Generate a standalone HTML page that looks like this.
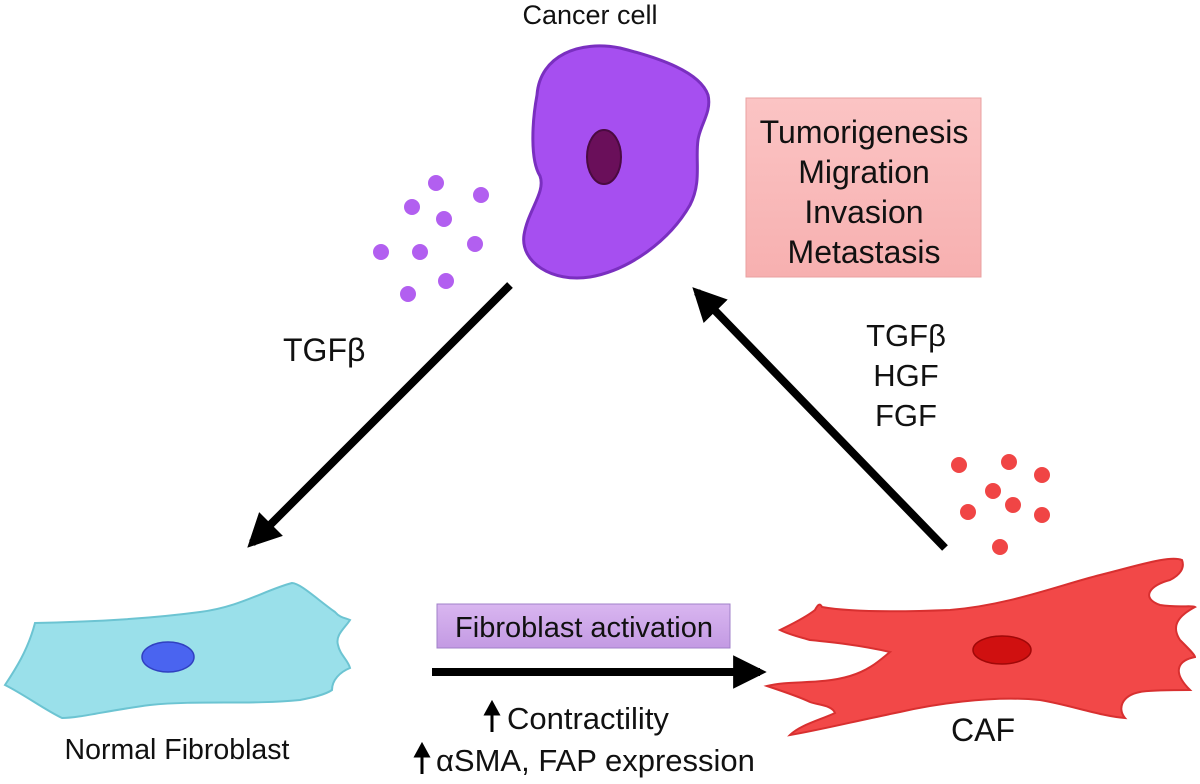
<!DOCTYPE html>
<html><head><meta charset="utf-8"><style>
html,body{margin:0;padding:0;background:#fff;}
svg{display:block;}
text{font-family:"Liberation Sans",Arial,sans-serif;fill:#111;}
</style></head><body>
<svg width="1200" height="784" viewBox="0 0 1200 784" xmlns="http://www.w3.org/2000/svg">
<defs>
<marker id="ah" viewBox="0 0 10 10" refX="8" refY="5" markerWidth="4.2" markerHeight="4.2" orient="auto" markerUnits="strokeWidth">
<path d="M0,0 L10,5 L0,10 Z" fill="#000"/></marker>
<linearGradient id="pk" x1="0" y1="0" x2="0" y2="1"><stop offset="0" stop-color="#fbc4c4"/><stop offset="1" stop-color="#f7b0b0"/></linearGradient>
<linearGradient id="pu" x1="0" y1="0" x2="0" y2="1"><stop offset="0" stop-color="#d9b6f0"/><stop offset="1" stop-color="#c39ae3"/></linearGradient>
</defs>

<text x="590" y="24" font-size="27" text-anchor="middle">Cancer cell</text>

<path d="M537,95 C540,55 580,40 620,48 C660,58 700,72 708,95 C712,112 700,125 698,140 C695,160 702,182 690,205 C670,240 630,270 590,277 C552,283 520,262 524,235 C528,210 546,192 540,176 C530,160 532,122 537,95 Z" fill="#a64ff0" stroke="#7a2fc0" stroke-width="3"/>
<ellipse cx="604" cy="157" rx="17" ry="27" fill="#6a0f5a" stroke="#4a0a40" stroke-width="2"/>

<g fill="#b25ff0">
<circle cx="436" cy="183" r="8"/><circle cx="481" cy="195" r="8"/><circle cx="412" cy="207" r="8"/>
<circle cx="444" cy="219" r="8"/><circle cx="381" cy="252" r="8"/><circle cx="420" cy="252" r="8"/>
<circle cx="475" cy="244" r="8"/><circle cx="446" cy="281" r="8"/><circle cx="408" cy="294" r="8"/>
</g>

<rect x="746" y="98" width="235" height="179" fill="url(#pk)" stroke="#eaa0a0" stroke-width="1"/>
<g font-size="32" text-anchor="middle">
<text x="864" y="143">Tumorigenesis</text>
<text x="864" y="183">Migration</text>
<text x="864" y="223">Invasion</text>
<text x="864" y="263">Metastasis</text>
</g>

<line x1="510" y1="285" x2="252" y2="543" stroke="#000" stroke-width="8" marker-end="url(#ah)"/>
<line x1="945" y1="548" x2="697" y2="292" stroke="#000" stroke-width="8" marker-end="url(#ah)"/>
<line x1="432" y1="672" x2="760" y2="672" stroke="#000" stroke-width="8" marker-end="url(#ah)"/>

<text x="283" y="361" font-size="32">TGFβ</text>
<g font-size="31" text-anchor="middle">
<text x="906" y="346">TGFβ</text>
<text x="906" y="386">HGF</text>
<text x="906" y="426">FGF</text>
</g>

<g fill="#f04545">
<circle cx="959" cy="465" r="8"/><circle cx="1009" cy="462" r="8"/><circle cx="1042" cy="475" r="8"/>
<circle cx="993" cy="491" r="8"/><circle cx="1013" cy="505" r="8"/><circle cx="968" cy="512" r="8"/>
<circle cx="1042" cy="515" r="8"/><circle cx="1000" cy="547" r="8"/>
</g>

<path d="M5,685 C15,670 28,650 35,623 C80,622 140,620 200,612 C240,607 265,590 292,583 C300,583 318,600 335,612 C340,618 346,618 350,620 C345,628 335,635 338,645 C340,655 348,660 350,668 C340,672 332,680 332,690 C325,695 310,698 300,700 C250,705 200,700 150,705 C110,710 80,718 62,718 C45,710 25,695 5,685 Z" fill="#9ae0ea" stroke="#6cc4d2" stroke-width="2"/>
<ellipse cx="168" cy="657" rx="26" ry="15" fill="#4a64f0" stroke="#3040c0" stroke-width="1.5"/>
<text x="177" y="759" font-size="28.5" text-anchor="middle">Normal Fibroblast</text>

<path d="M780,630 C790,625 805,618 815,610 C818,604 820,603 822,607 C850,612 900,612 950,610 C1010,605 1060,585 1100,575 C1140,565 1170,555 1182,560 C1185,568 1180,575 1170,580 C1150,585 1140,598 1160,605 C1180,608 1192,605 1195,607 C1180,615 1170,625 1180,640 C1190,650 1195,655 1195,657 C1180,660 1170,670 1190,690 C1175,690 1150,690 1140,692 C1120,696 1118,710 1125,718 C1100,716 1070,705 1040,700 C990,695 930,705 900,712 C860,720 820,730 790,735 C800,725 820,720 835,713 C832,705 818,705 810,702 C800,697 785,692 767,686 C790,680 820,685 850,676 C870,670 880,660 890,652 C860,645 830,642 810,640 C800,637 790,635 780,630 Z" fill="#f24848" stroke="#d83030" stroke-width="2"/>
<ellipse cx="1002" cy="650" rx="29" ry="14" fill="#d01010" stroke="#a00808" stroke-width="1.5"/>
<text x="983" y="741" font-size="32" text-anchor="middle">CAF</text>

<rect x="437" y="604" width="293" height="44" fill="url(#pu)" stroke="#a080c8" stroke-width="1"/>
<text x="584" y="637" font-size="29" text-anchor="middle">Fibroblast activation</text>

<g font-size="31">
<path d="M492,732 L492,708 M486,714 L492,703 L498,714 Z" stroke="#000" stroke-width="3" fill="#000"/>
<text x="507" y="729">Contractility</text>
<path d="M422,774 L422,750 M416,756 L422,745 L428,756 Z" stroke="#000" stroke-width="3" fill="#000"/>
<text x="436" y="771">αSMA, FAP expression</text>
</g>
</svg>
</body></html>
